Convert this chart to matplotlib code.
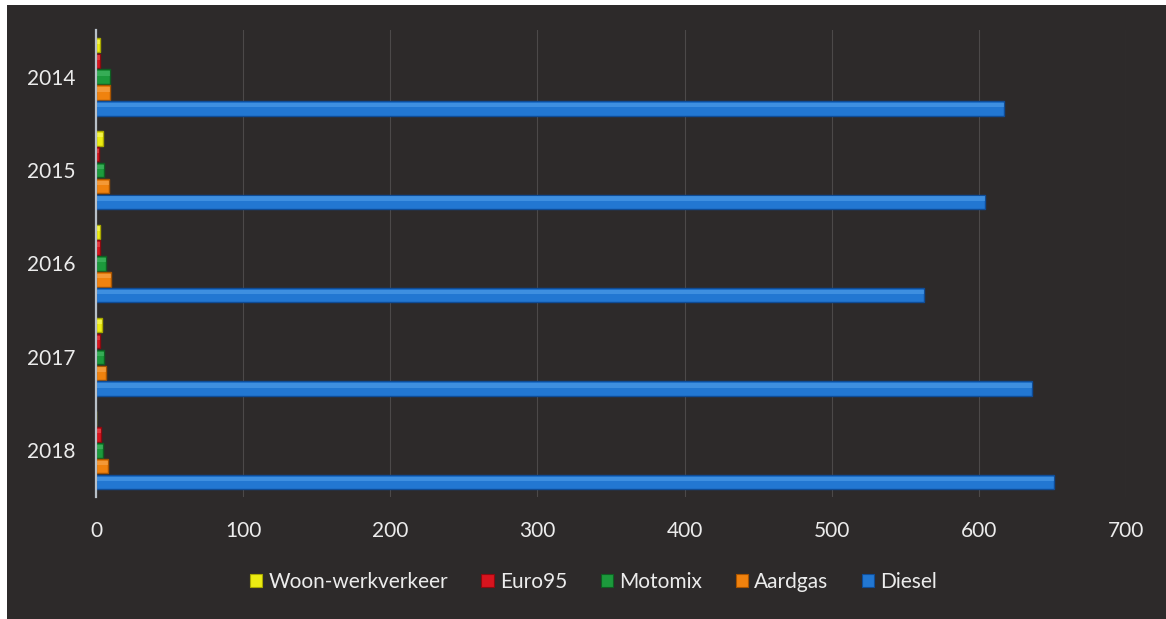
import matplotlib.pyplot as plt
import numpy as np
from matplotlib.patches import Rectangle

years = ["2014", "2015", "2016", "2017", "2018"]
series = ["Woon-werkverkeer", "Euro95", "Motomix", "Aardgas", "Diesel"]
woon_werk = [3, 5, 3, 4, 0]
euro95 = [3, 2, 3, 2.5, 3.5]
motomix = [9.5, 5.5, 6.5, 5.5, 5]
aardgas = [9.5, 9, 10, 7, 8]
diesel = [617, 604, 563, 636, 651]
values = [woon_werk, euro95, motomix, aardgas, diesel]

colors = ["#ecec12", "#d8141e", "#1c9a3c", "#f0820e", "#2277d2"]
edges = ["#a8a800", "#8c0a10", "#0e5e22", "#a85400", "#0f4c96"]
highlights = ["#fafa80", "#f05a60", "#50c070", "#f8b060", "#5aa8ee"]

BG = "#2d2a2a"
TXT = "#ececec"

plt.rcParams["font.family"] = ["Lato", "DejaVu Sans"]

fig = plt.figure(figsize=(11.66, 6.19), dpi=100)
fig.patches.append(Rectangle((7 / 1166, 0), 1, 1 - 5 / 619, transform=fig.transFigure,
                             facecolor=BG, edgecolor="none", zorder=-10))
ax = fig.add_axes([96 / 1166, 1 - 497 / 619, 1030 / 1166, 467 / 619])
ax.set_zorder(1)
ax.set_facecolor("none")

y = np.arange(len(years))
slot = 0.170
h = 0.155
for i, (name, vals) in enumerate(zip(series, values)):
    off = (i - 2) * slot
    ax.barh(y + off, vals, height=h, color=colors[i], edgecolor=edges[i],
            linewidth=1.0, label=name, zorder=3)
    # light bevel along the upper edge
    ax.barh(y + off - h * 0.22, vals, height=h * 0.3, color=highlights[i],
            edgecolor="none", alpha=0.5, zorder=4)

ax.set_xlim(0, 700)
ax.set_ylim(len(years) - 0.5, -0.5)
ax.set_xticks(range(0, 701, 100))
ax.set_yticks(y)
ax.set_yticklabels(years)
ax.tick_params(axis="both", length=0, colors=TXT, labelsize=15)
ax.tick_params(axis="x", pad=17)
ax.tick_params(axis="y", pad=15)
ax.xaxis.grid(True, color="#4c4949", linewidth=0.8, zorder=0)
ax.set_axisbelow(True)
for s in ["top", "right", "bottom"]:
    ax.spines[s].set_visible(False)
ax.spines["left"].set_color("#b8c0c8")
ax.spines["left"].set_linewidth(1.6)
ax.spines["left"].set_zorder(5)

handles = [Rectangle((0, 0), 1, 1, facecolor=c, edgecolor=e, linewidth=0.8)
           for c, e in zip(colors, edges)]
leg = fig.legend(handles, series, loc="center", bbox_to_anchor=(0.509, 1 - 582 / 619),
                 ncol=5, frameon=False, fontsize=15, handlelength=0.6, handleheight=0.6,
                 handletextpad=0.3, columnspacing=1.6, labelcolor=TXT)

fig.savefig("out.png", dpi=100, facecolor="white")
